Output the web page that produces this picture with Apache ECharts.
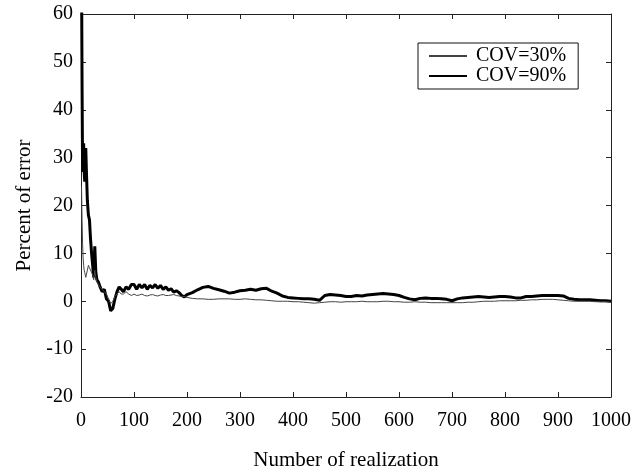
<!DOCTYPE html>
<html>
<head>
<meta charset="utf-8">
<script src="https://cdn.jsdelivr.net/npm/echarts@6/dist/echarts.min.js"></script>
<style>
  html, body { margin: 0; padding: 0; background: #fff; }
  #chart { width: 642px; height: 468px; }
</style>
</head>
<body>
<div id="chart"></div>
<script>
const realization = [
  1, 2, 3, 4, 5, 6, 7, 8, 9, 10, 12, 14, 16, 18, 20, 22, 24, 26, 28, 30,
  33, 36, 40, 44, 48, 52, 56, 60, 64, 68, 72, 76, 80, 85, 90, 95, 100,
  105, 110, 115, 120, 125, 130, 135, 140, 145, 150, 155, 160, 165, 170,
  175, 180, 185, 190, 195, 200, 210, 220, 230, 240, 250, 260, 270, 280,
  290, 300, 310, 320, 330, 340, 350, 360, 370, 380, 390, 400, 410, 420,
  430, 440, 450, 460, 470, 480, 490, 500, 510, 520, 530, 540, 550, 560,
  570, 580, 590, 600, 610, 620, 630, 640, 650, 660, 670, 680, 690, 700,
  710, 720, 730, 740, 750, 760, 770, 780, 790, 800, 810, 820, 830, 840,
  850, 860, 870, 880, 890, 900, 910, 920, 930, 940, 950, 960, 970, 980,
  990, 1000
];

const cov30 = [
  24, 17, 12, 9, 7.5, 6.5, 6, 5.5, 5, 5.5, 6.5, 7.5, 7, 6.5, 6, 5.5, 4.5, 6.5, 5, 4,
  3.5, 3, 2.5, 2, 1.5, 0.5, -0.5, 0, 1, 1.5, 2, 1.5, 1.5, 2, 1.5, 1.2, 1.5,
  1.2, 1.3, 1.5, 1.2, 1.1, 1.3, 1.4, 1.2, 1.1, 1.3, 1.4, 1.2, 1.2, 1.3,
  1.4, 1.2, 1.1, 1.0, 1.0, 0.8, 0.6, 0.5, 0.5, 0.4, 0.4, 0.5, 0.5, 0.5,
  0.4, 0.4, 0.5, 0.4, 0.3, 0.3, 0.2, 0.1, 0, 0, 0, -0.1, -0.1, -0.2,
  -0.3, -0.4, -0.3, -0.2, -0.1, -0.1, -0.2, -0.1, -0.1, -0.1, 0, -0.1, -0.1, -0.1,
  0, 0, -0.1, -0.1, -0.2, -0.2, -0.1, -0.2, -0.2, -0.3, -0.3, -0.3, -0.3, -0.3,
  -0.3, -0.3, -0.2, -0.2, -0.1, 0, 0, 0, 0.1, 0.1, 0.1, 0.1, 0.2, 0.2,
  0.3, 0.3, 0.4, 0.4, 0.4, 0.3, 0.2, 0.1, 0, 0, 0, 0, -0.1, -0.1,
  -0.1, -0.2
];

const cov90 = [
  70, 45, 27, 31, 33, 27, 25, 30, 32, 28, 21, 18, 17, 13, 10, 7.5, 5, 11.5, 6, 4.5,
  4, 3, 2, 2.5, 0.5, 0, -2, -1.5, 0.5, 2, 3, 2.5, 2, 3, 2.5, 3.5, 3.5,
  2.5, 3.5, 2.8, 3.5, 2.5, 3.3, 2.8, 3.5, 2.7, 3.3, 2.5, 3, 2.3, 2.6,
  1.9, 2.2, 1.8, 1.2, 0.9, 1.4, 1.8, 2.4, 2.9, 3.1, 2.7, 2.4, 2.1, 1.7,
  1.9, 2.2, 2.3, 2.5, 2.3, 2.6, 2.7, 2.1, 1.7, 1.1, 0.8, 0.7, 0.6, 0.5,
  0.5, 0.4, 0.2, 1.2, 1.4, 1.3, 1.2, 1.0, 1.0, 1.2, 1.1, 1.3, 1.4, 1.5,
  1.6, 1.5, 1.4, 1.2, 0.8, 0.5, 0.3, 0.6, 0.7, 0.6, 0.6, 0.5, 0.4, 0.1,
  0.5, 0.7, 0.8, 0.9, 1.0, 0.9, 0.8, 0.9, 1.0, 1.0, 0.9, 0.7, 0.7, 1.0,
  1.0, 1.1, 1.2, 1.2, 1.2, 1.2, 1.1, 0.6, 0.4, 0.3, 0.3, 0.3, 0.2, 0.1,
  0.1, 0
];

const font = '"Liberation Serif", "DejaVu Serif", serif';

function pairs(values) {
  return realization.map((x, i) => [x, values[i]]);
}

function frameAxis(extra) {
  return Object.assign({
    type: 'value',
    axisLine: { show: true, onZero: false, lineStyle: { color: '#222', width: 1 } },
    axisTick: { show: true, inside: true, length: 5, lineStyle: { color: '#222' } },
    splitLine: { show: false },
  }, extra);
}

const chart = echarts.init(document.getElementById('chart'));
chart.setOption({
  backgroundColor: '#fff',
  animation: false,
  grid: { left: 81, right: 31, top: 14, bottom: 71, containLabel: false, outerBoundsMode: 'none' },
  legend: {
    left: 418,
    top: 43,
    orient: 'vertical',
    itemWidth: 38,
    itemHeight: 12,
    itemGap: 0,
    padding: [3, 12, 3, 10],
    borderColor: '#111',
    borderWidth: 1,
    itemStyle: { opacity: 0 },
    textStyle: { fontFamily: font, fontSize: 20, color: '#000', padding: [0, 0, 0, 4] },
    data: ['COV=30%', 'COV=90%'],
  },
  xAxis: [
    frameAxis({
      min: 0, max: 1000, interval: 100, position: 'bottom',
      name: 'Number of realization', nameLocation: 'middle', nameGap: 53,
      nameTextStyle: { fontFamily: font, fontSize: 21, color: '#000' },
      axisLabel: { fontFamily: font, fontSize: 20, color: '#000', margin: 14, formatter: (v) => String(v) },
    }),
    frameAxis({ min: 0, max: 1000, interval: 100, position: 'top', axisLabel: { show: false } }),
  ],
  yAxis: [
    frameAxis({
      min: -20, max: 60, interval: 10, position: 'left',
      name: 'Percent of error', nameLocation: 'middle', nameGap: 43, nameRotate: 90,
      nameTextStyle: { fontFamily: font, fontSize: 21, color: '#000' },
      axisLabel: { fontFamily: font, fontSize: 20, color: '#000', margin: 8 },
    }),
    frameAxis({ min: -20, max: 60, interval: 10, position: 'right', axisLabel: { show: false } }),
  ],
  series: [
    {
      name: 'COV=30%', type: 'line', symbol: 'none', clip: true,
      lineStyle: { color: '#444', width: 1 }, itemStyle: { color: '#444' },
      data: pairs(cov30), z: 3,
    },
    {
      name: 'COV=90%', type: 'line', symbol: 'none', clip: true,
      lineStyle: { color: '#000', width: 3 }, itemStyle: { color: '#000' },
      data: pairs(cov90), z: 2,
    },
  ],
});
</script>
</body>
</html>
